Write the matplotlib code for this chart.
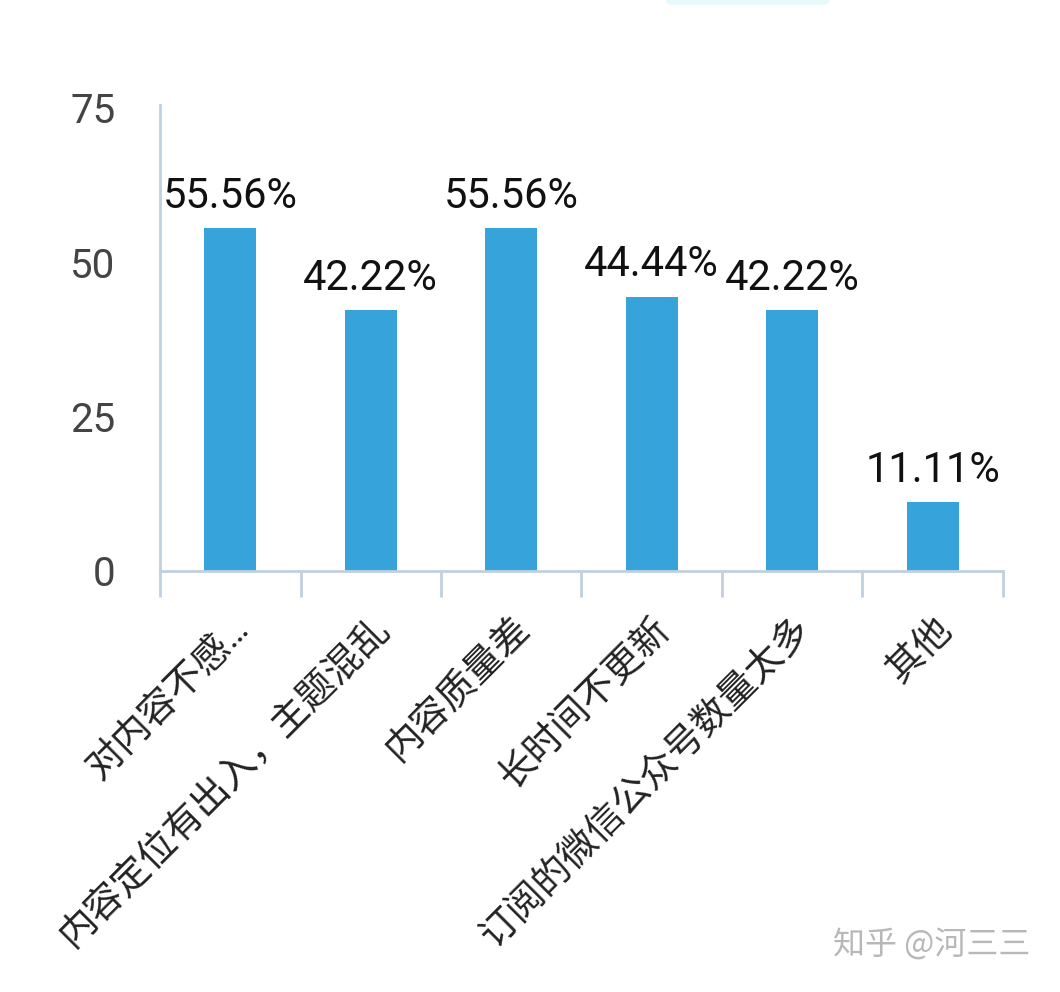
import matplotlib.pyplot as plt
from matplotlib.patches import FancyBboxPatch

plt.rcParams['font.family'] = ['Roboto', 'Noto Sans CJK SC', 'DejaVu Sans']

categories = ['对内容不感…', '内容定位有出入，主题混乱', '内容质量差',
              '长时间不更新', '订阅的微信公众号数量太多', '其他']
values = [55.56, 42.22, 55.56, 44.44, 42.22, 11.11]
labels = ['55.56%', '42.22%', '55.56%', '44.44%', '42.22%', '11.11%']
y_ticks = [0, 25, 50, 75]

fig = plt.figure(figsize=(10.6, 9.92), dpi=100)
ax = fig.add_axes([0.151, 0.4244, 0.795, 0.4668])

x = list(range(len(categories)))
bars = ax.bar(x, values, width=0.37, color='#36a3da', zorder=2)
for b, t in zip(bars, labels):
    ax.text(b.get_x() + b.get_width() / 2, b.get_height() + 1.8, t,
            ha='center', va='bottom', fontsize=30, color='#111111')

ax.set_xlim(-0.5, len(categories) - 0.5)
ax.set_ylim(0, 75)
ax.set_yticks(y_ticks)
ax.tick_params(axis='y', length=0, pad=32, labelsize=29, labelcolor='#444444')

ax.set_xticks(x)
ax.set_xticklabels(categories, rotation=45, ha='right', rotation_mode='anchor',
                   fontsize=27, color='#222222')
ax.tick_params(axis='x', which='major', length=0, pad=28)
ax.set_xticks([i - 0.5 for i in range(len(categories) + 1)], minor=True)
ax.tick_params(axis='x', which='minor', length=19, width=2, color='#c0d0de')

for s in ['top', 'right']:
    ax.spines[s].set_visible(False)
for s in ['left', 'bottom']:
    ax.spines[s].set_color('#c0d0de')
    ax.spines[s].set_linewidth(2)
ax.spines['left'].set_bounds(0, 75.5)

# faint shape at top edge
fig.patches.append(FancyBboxPatch((0.628, 0.995), 0.155, 0.02,
                                  boxstyle='round,pad=0,rounding_size=0.006',
                                  transform=fig.transFigure, facecolor='#e6f9fb',
                                  edgecolor='none'))

fig.text(0.972, 0.047, '知乎 @河三三', ha='right', va='center', fontsize=23,
         color='#b8b8b8', family=['Noto Sans CJK SC', 'DejaVu Sans'])

fig.savefig('out.png', dpi=100, facecolor='white')
